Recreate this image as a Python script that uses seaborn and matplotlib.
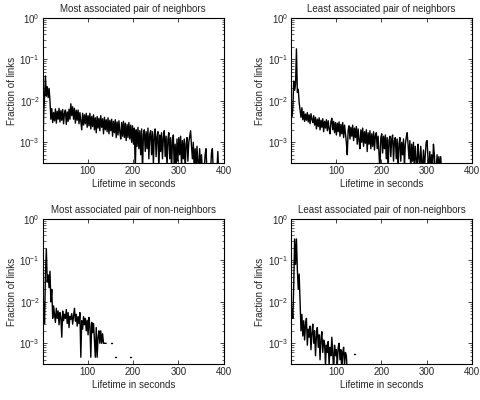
import numpy as np
import pandas as pd
import matplotlib
matplotlib.use("Agg")
import matplotlib.pyplot as plt
import seaborn as sns

# lifetimes are binned every 2 seconds
nan = np.nan

most_nb = [
    2e-4, 5.0e-3, 1.2e-2, 4.0e-2, 1.3e-2, 2.2e-2, 1.2e-2, 2.0e-2, 1.0e-2, 3.6e-3,
    6.5e-3, 3.0e-3, 5.2e-3, 3.3e-3, 6.4e-3, 2.9e-3, 5.6e-3, 3.6e-3, 6.6e-3, 3.1e-3,
    5.8e-3, 3.4e-3, 6.2e-3, 2.8e-3, 5.0e-3, 6.0e-3, 2.7e-3, 5.4e-3, 3.2e-3, 6.3e-3,
    3.6e-3, 8.5e-3, 4.4e-3, 7.2e-3, 3.6e-3, 6.6e-3, 2.9e-3, 5.9e-3, 3.4e-3, 6.0e-3,
    2.8e-3, 5.2e-3, 3.2e-3, 2.0e-3, 5.0e-3, 2.6e-3, 4.6e-3, 2.8e-3, 5.0e-3, 2.3e-3,
    4.4e-3, 2.5e-3, 5.0e-3, 2.1e-3, 4.2e-3, 2.4e-3, 4.6e-3, 2.0e-3, 3.9e-3, 1.7e-3,
    4.2e-3, 2.2e-3, 3.8e-3, 1.9e-3, 4.4e-3, 2.3e-3, 3.7e-3, 1.6e-3, 4.0e-3, 2.0e-3,
    3.5e-3, 1.8e-3, 3.9e-3, 1.6e-3, 3.4e-3, 1.9e-3, 3.6e-3, 1.4e-3, 3.2e-3, 1.7e-3,
    3.5e-3, 1.3e-3, 3.1e-3, 1.5e-3, 3.3e-3, 1.8e-3, 1.2e-3, 3.0e-3, 1.4e-3, 3.2e-3,
    1.3e-3, 2.9e-3, 1.1e-3, 2.7e-3, 1.3e-3, 3.0e-3, 1.2e-3, 2.6e-3, 1.0e-3, 2.5e-3,
    9e-4, 2.2e-3, 2e-4, 2.0e-3, 8e-4, 2.3e-3, 7e-4, 1.9e-3, 5e-4, 2.1e-3,
    2e-4, 1.6e-3, 2.0e-3, 6e-4, 1.8e-3, 7e-4, 2.2e-3, 4e-4, 1.6e-3, 1.9e-3,
    5e-4, 1.8e-3, 3e-4, 1.5e-3, 2.1e-3, 4.5e-4, 1.4e-3, 1.8e-3, 2e-4, 1.5e-3,
    6e-4, 1.7e-3, 4e-4, 1.3e-3, 1.9e-3, 4.5e-4, 1.4e-3, 2.5e-4, 1.2e-3, 1.7e-3,
    4e-4, 1.3e-3, 2e-4, 1.1e-3, 1.5e-3, 2e-4, 9e-4, 2e-4, 1.2e-3, 3.5e-4,
    1.3e-3, 5e-4, 1.4e-3, 2.5e-4, 1.1e-3, 4e-4, 1.2e-3, 2e-4, 9e-4, 1.3e-3,
    3.5e-4, 1.0e-3, 1.4e-3, 1.9e-3, 8e-4, 4e-4, 1.0e-3, 2e-4, 7e-4, 2e-4,
    8e-4, 3.5e-4, 2e-4, 7e-4, 2e-4, 5e-4, 2e-4, 2e-4, 2e-4, 5e-4,
    7e-4, 2e-4, 2e-4, 2e-4, 2e-4, 2e-4, 5.5e-4, 7e-4, 2e-4, 2e-4,
    2e-4, 2e-4, 2e-4, 6e-4, 2e-4,
]

least_nb = [
    5.0e-3, 4.2e-3, 6.5e-3, 3.0e-2, 1.8e-2, 2.5e-2, 1.8e-1, 1.6e-2, 1.9e-2, 9.0e-3,
    6.0e-3, 4.0e-3, 6.8e-3, 3.5e-3, 5.5e-3, 3.2e-3, 4.8e-3, 3.4e-3, 5.2e-3, 3.1e-3,
    4.6e-3, 2.8e-3, 4.9e-3, 3.6e-3, 3.0e-3, 4.4e-3, 2.6e-3, 4.0e-3, 2.1e-3, 3.6e-3,
    2.4e-3, 3.9e-3, 2.0e-3, 3.4e-3, 2.3e-3, 3.7e-3, 1.8e-3, 3.2e-3, 2.2e-3, 3.5e-3,
    1.9e-3, 3.3e-3, 2.1e-3, 1.6e-3, 3.1e-3, 3.8e-3, 2.0e-3, 3.2e-3, 1.7e-3, 3.0e-3,
    1.5e-3, 2.9e-3, 1.8e-3, 3.1e-3, 1.4e-3, 2.7e-3, 1.6e-3, 3.0e-3, 1.3e-3, 2.6e-3,
    1.6e-3, 1.0e-3, 5.0e-4, 2.0e-3, 2.5e-3, 1.2e-3, 2.3e-3, 1.4e-3, 2.6e-3, 1.1e-3,
    2.2e-3, 1.3e-3, 2.4e-3, 9.0e-4, 2.1e-3, 1.1e-3, 7.0e-4, 2.0e-3, 1.0e-3, 2.2e-3,
    8.0e-4, 1.8e-3, 9.5e-4, 2.0e-3, 6.0e-4, 1.7e-3, 9.0e-4, 1.9e-3, 7.0e-4, 1.6e-3,
    8.0e-4, 1.8e-3, 6.5e-4, 1.5e-3, 1.7e-3, 7.0e-4, 1.4e-3, 5.0e-4, 2.0e-4, 1.3e-3,
    1.6e-3, 5.5e-4, 1.4e-3, 7.0e-4, 1.5e-3, 4.0e-4, 1.3e-3, 2.0e-4, 1.1e-3, 1.4e-3,
    4.5e-4, 1.2e-3, 1.5e-3, 3.5e-4, 1.1e-3, 1.3e-3, 4.0e-4, 1.2e-3, 2.0e-4, 9.0e-4,
    1.3e-3, 3.5e-4, 1.0e-3, 5.0e-4, 1.2e-3, 2.5e-4, 9.0e-4, 1.3e-3, 1.7e-3, 9.0e-4,
    4.0e-4, 1.1e-3, 2.0e-4, 9.0e-4, 3.5e-4, 1.0e-3, 2.0e-4, 8.0e-4, 4.0e-4, 2.0e-4,
    9.0e-4, 4.5e-4, 2.0e-4, 8.0e-4, 3.5e-4, 2.0e-4, 6.5e-4, 2.0e-4, 5.0e-4, 1.0e-3,
    1.1e-3, 4.0e-4, 2.0e-4, 6.0e-4, 2.0e-4, 5.0e-4, 2.0e-4, 9.0e-4, 5.0e-4, 2.0e-4,
    2.0e-4, 5.0e-4, 2.0e-4, 4.5e-4, 2.0e-4, 4.5e-4, 2.0e-4, 2.0e-4,
]

most_non = [
    3.0e-3, 1.0e-2, 3.0e-3, 4.5e-2, 1.9e-1, 3.0e-2, 4.5e-2, 2.2e-2, 5.5e-2, 1.0e-2,
    2.0e-2, 4.0e-3, 8.0e-3, 5.0e-3, 3.2e-3, 7.0e-3, 4.0e-3, 6.0e-3, 2.8e-3, 5.5e-3,
    4.2e-3, 1.4e-3, 6.0e-3, 3.5e-3, 5.0e-3, 4.0e-3, 6.5e-3, 3.0e-3, 5.5e-3, 2.4e-3,
    4.5e-3, 3.8e-3, 5.2e-3, 2.9e-3, 4.6e-3, 7.0e-3, 3.4e-3, 5.0e-3, 2.6e-3, 4.4e-3,
    3.0e-3, 5.5e-3, 4.6e-4, 3.5e-3, 2.2e-3, 4.4e-3, 2.8e-3, 4.0e-3, 2.0e-3, 3.6e-3,
    1.6e-3, 4.2e-3, 2.6e-3, 4.6e-4, 3.2e-3, 1.8e-3, 3.0e-3, 1.2e-3, 4.6e-4, 2.4e-3,
    4.6e-4, 1.4e-3, 2.0e-3, 1.0e-3, 2.0e-3, 1.0e-3, 1.7e-3, 1.0e-3, 1.0e-3, 1.0e-3,
    1.0e-3, nan, nan, nan, nan, 1.0e-3, 1.0e-3, nan, nan, nan,
    4.6e-4, 4.6e-4, nan, nan, nan, nan, nan, nan, nan, nan,
    nan, nan, nan, nan, nan, nan, 4.6e-4, 4.6e-4, nan, nan,
]

least_non = [
    3.0e-3, 7.0e-3, 4.0e-3, 2.5e-2, 3.3e-1, 8.0e-2, 3.3e-1, 6.0e-2, 2.0e-2, 4.7e-2,
    1.0e-2, 2.0e-3, 5.0e-3, 1.5e-3, 3.5e-3, 1.2e-3, 2.8e-3, 4.0e-3, 9.0e-4, 2.2e-3,
    1.4e-3, 2.6e-3, 7.0e-4, 1.8e-3, 2.9e-3, 1.0e-3, 2.0e-3, 5.0e-4, 1.5e-3, 2.4e-3,
    8.0e-4, 1.6e-3, 4.0e-4, 1.3e-3, 1.9e-3, 6.0e-4, 1.2e-3, 1.0e-3, 3.0e-4, 9.0e-4,
    6.0e-4, 1.1e-3, 3.0e-4, 8.0e-4, 5.0e-4, 1.4e-3, 6.0e-4, 2.0e-4, 9.0e-4, 5.0e-4,
    7.0e-4, 3.0e-4, 8.0e-4, 1.0e-3, 4.0e-4, 7.0e-4, 2.0e-4, 6.0e-4, 8.0e-4, 3.0e-4,
    6.0e-4, 5.0e-4, 2.0e-4, nan, nan, nan, nan, nan, nan, 5.4e-4,
    5.4e-4,
]

titles = [
    "Most associated pair of neighbors",
    "Least associated pair of neighbors",
    "Most associated pair of non-neighbors",
    "Least associated pair of non-neighbors",
]
series = [most_nb, least_nb, most_non, least_non]

sns.set_style("ticks")
plt.rcParams["font.family"] = ["Liberation Sans", "DejaVu Sans"]
plt.rcParams["font.size"] = 7
plt.rcParams["axes.linewidth"] = 0.8

fig = plt.figure(figsize=(4.81, 4.0), dpi=100)
positions = [
    [0.0888, 0.5925, 0.3763, 0.3625],
    [0.605, 0.5925, 0.3763, 0.3625],
    [0.0888, 0.09, 0.3763, 0.3625],
    [0.605, 0.09, 0.3763, 0.3625],
]

for pos, title, vals in zip(positions, titles, series):
    ax = fig.add_axes(pos)
    vals = np.array(vals, dtype=float)
    df = pd.DataFrame({"t": np.arange(len(vals)) * 2 + 1, "frac": vals})
    # split into runs wherever a bin is empty
    df["seg"] = df["frac"].isna().cumsum()
    df = df.dropna()
    sns.lineplot(data=df, x="t", y="frac", units="seg", estimator=None,
                 color="black", linewidth=1.0, ax=ax)
    ax.set_yscale("log")
    ax.set_xlim(1, 400)
    ax.set_ylim(10 ** -3.5, 1)
    ax.set_xticks([100, 200, 300, 400])
    ax.set_yticks([1e-3, 1e-2, 1e-1, 1])
    ax.tick_params(which="both", direction="in", top=True, right=True,
                   labelsize=7, pad=2)
    ax.tick_params(which="major", length=3, width=0.6)
    ax.tick_params(which="minor", length=1.8, width=0.5)
    for s in ax.spines.values():
        s.set_visible(True)
        s.set_color("black")
    ax.set_title(title, fontsize=7, pad=4)
    ax.set_xlabel("Lifetime in seconds", fontsize=7, labelpad=2)
    ax.set_ylabel("Fraction of links", fontsize=7, labelpad=2)

fig.savefig("out.png", dpi=100)
